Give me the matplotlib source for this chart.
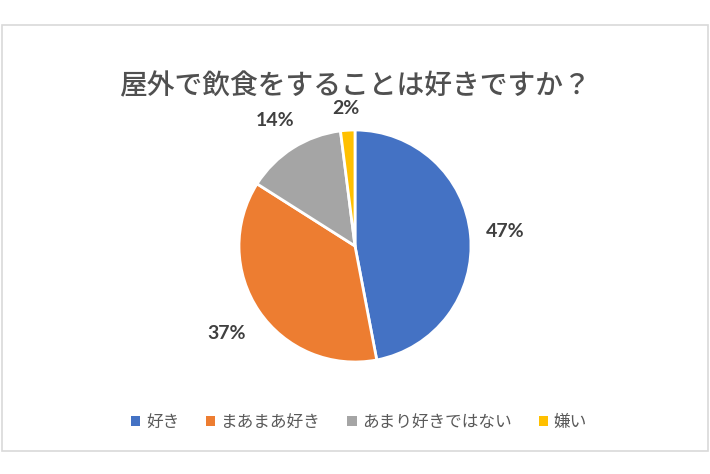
import matplotlib
matplotlib.use("Agg")
import matplotlib.pyplot as plt
from matplotlib.patches import Rectangle
import numpy as np

plt.rcParams['font.family'] = ['Noto Sans CJK JP', 'DejaVu Sans']

title = "屋外で飲食をすることは好きですか？"
categories = ["好き", "まあまあ好き", "あまり好きではない", "嫌い"]
values = [47, 37, 14, 2]
colors = ["#4472C4", "#ED7D31", "#A5A5A5", "#FFC000"]
label_dist = [1.30, 1.34, 1.28, 1.19]

W, H = 710, 474
fig = plt.figure(figsize=(W / 100, H / 100), dpi=100)
fig.patch.set_facecolor("white")

# chart border
fig.patches.append(Rectangle((2 / W, 1 - 451 / H), 706 / W, 426 / H,
                             transform=fig.transFigure, fill=False,
                             edgecolor="#D9D9D9", linewidth=1.2))

cx, cy, r = 355, 246, 116
L = 1.5
side = 2 * L * r
ax = fig.add_axes([(cx - side / 2) / W, (H - cy - side / 2) / H, side / W, side / H])
wedges, _ = ax.pie(values, colors=colors, startangle=90, counterclock=False,
                   wedgeprops=dict(edgecolor="white", linewidth=2))
ax.set_xlim(-L, L)
ax.set_ylim(-L, L)
ax.set_aspect("equal")
ax.axis("off")

for w, v, d in zip(wedges, values, label_dist):
    ang = np.deg2rad((w.theta1 + w.theta2) / 2)
    ax.text(d * np.cos(ang), d * np.sin(ang), f"{v}%", ha="center", va="center",
            fontsize=14, fontweight="bold", color="#404040", family=["Lato", "DejaVu Sans"])

fig.text(cx / W, 1 - 86 / H, title, ha="center", va="center", fontsize=20,
         color="#505050", fontweight="medium")

handles = [Rectangle((0, 0), 1, 1, facecolor=c, edgecolor="none") for c in colors]
leg = fig.legend(handles, categories, loc="center", bbox_to_anchor=(359 / W, 1 - 422 / H),
                 ncol=4, frameon=False, fontsize=12, handlelength=0.55, handleheight=0.55,
                 handletextpad=0.35, columnspacing=1.6)
for t in leg.get_texts():
    t.set_color("#595959")

fig.savefig("out.png", dpi=100, facecolor="white")
